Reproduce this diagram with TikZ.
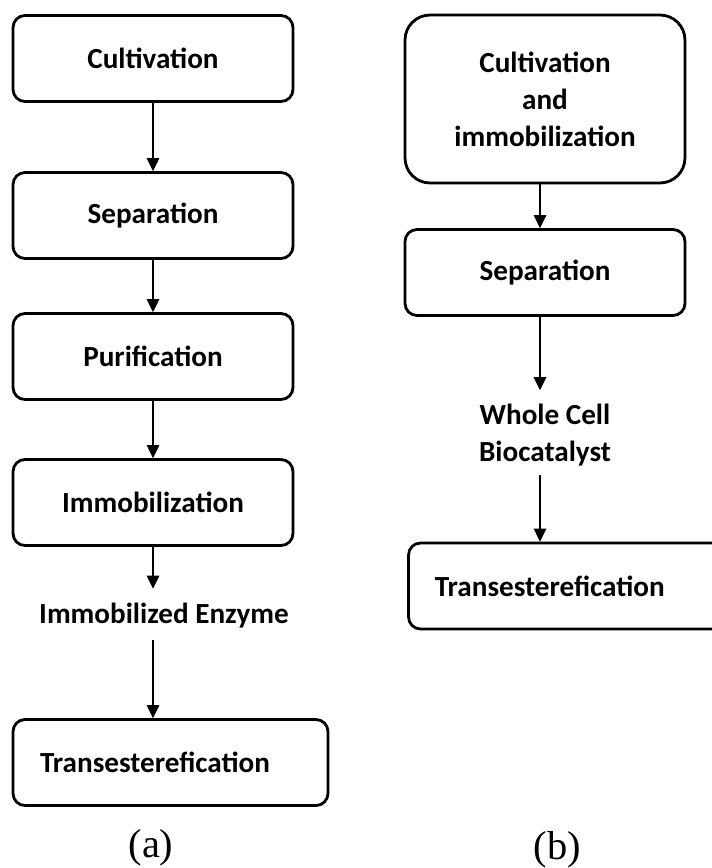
\documentclass[tikz,border=0pt]{standalone}
\usepackage{fontspec}
\setmainfont{Carlito}
\newfontfamily\capfont{Liberation Serif}
\usetikzlibrary{arrows.meta,calc}
\tikzset{
  stepbox/.style={draw,line width=1.6pt,rounded corners=0.24cm,
    minimum width=5.6cm,minimum height=1.72cm,inner sep=0pt,
    font=\fontsize{16.6}{21}\selectfont\bfseries,align=center},
  steptext/.style={inner sep=2pt,font=\fontsize{16.6}{21}\selectfont\bfseries,align=center},
  arw/.style={line width=0.8pt,-{Triangle[length=0.26cm,width=0.25cm]}},
  caption/.style={font=\capfont\fontsize{23}{28}\selectfont}
}
\begin{document}
\begin{tikzpicture}[x=0.02cm,y=-0.02cm]
\clip (0,0) rectangle (712,868);
\fill[white] (0,0) rectangle (712,868);
%(a) enzyme route
\node[stepbox] (cult) at (153,58.5){Cultivation};
\node[stepbox] (sep) at (153,215.5){Separation};
\node[stepbox] (pur) at (153,356.5){Purification};
\node[stepbox] (imm) at (153,502.5){Immobilization};
\node[steptext] (enz) at (164,616){Immobilized Enzyme};
\node[stepbox,minimum width=6.3cm,text width=5.22cm,align=left] (trans) at (170.5,762.5){Transesterefication};
\draw[arw](cult)--(sep);
\draw[arw](sep)--(pur);
\draw[arw](pur)--(imm);
\draw[arw](imm.south)--([yshift=0.22cm]enz.north -| imm.south);
\draw[arw]([yshift=-0.16cm]enz.south -| imm.south)--(trans.north -| imm.south);
\node[caption] (capa) at (151,848){(a)};
%(b) whole cell route
\coordinate (rb) at (540,0);
\node[stepbox,rounded corners=0.5cm,minimum height=3.36cm] (cai) at (545,99){Cultivation\\and\\immobilization};
\node[stepbox] (sepb) at (545,272.5){Separation};
\node[steptext] (wcb) at (545,435){Whole Cell\\Biocatalyst};
\node[stepbox,minimum width=6.5cm,text width=5.45cm,align=left] (transb) at (571,586){Transesterefication};
\draw[arw](cai.south -| rb)--(sepb.north -| rb);
\draw[arw](sepb.south -| rb)--([yshift=0.2cm]wcb.north -| rb);
\draw[arw]([yshift=-0.1cm]wcb.south -| rb)--(transb.north -| rb);
\node[caption] (capb) at (557.5,850){(b)};
\end{tikzpicture}
\end{document}
